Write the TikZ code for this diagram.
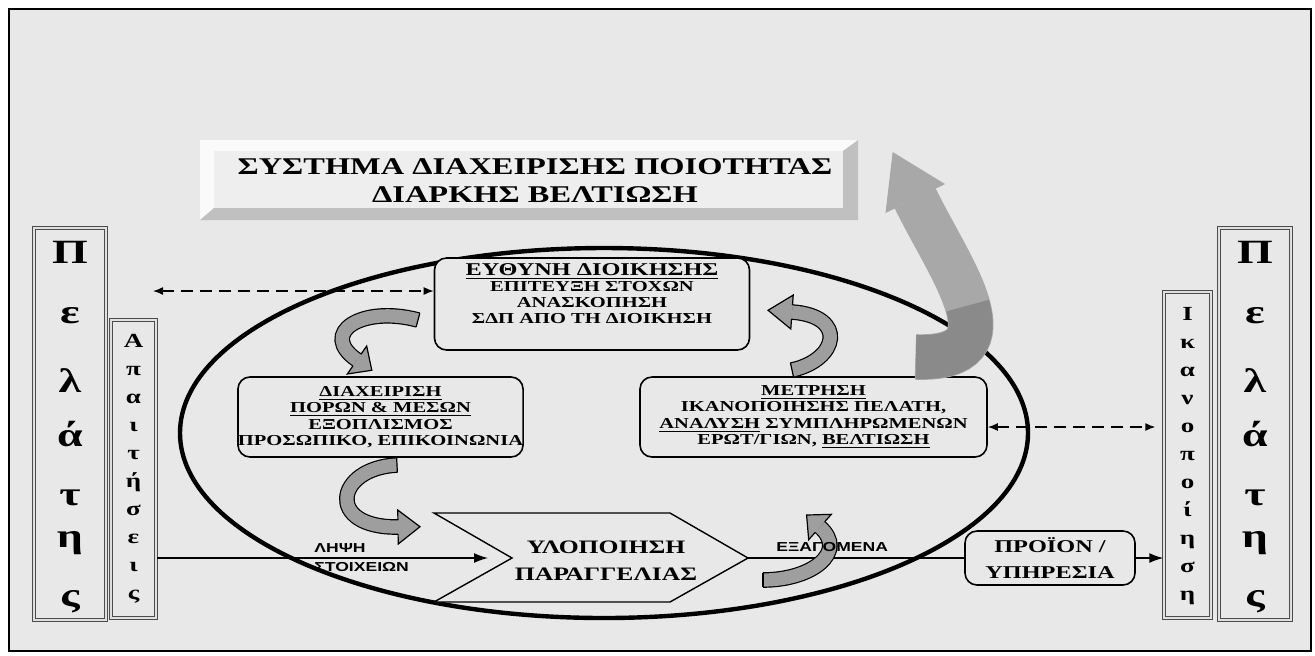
\documentclass[tikz,border=0pt]{standalone}
\usepackage{fontspec}
\setmainfont{Liberation Serif}[FakeStretch=1.35]
\newfontfamily\labelsans{Liberation Sans}[FakeStretch=1.35]
\usepackage{tikz}
\usetikzlibrary{arrows.meta,calc}

\definecolor{paper}{RGB}{232,232,232}
\definecolor{bandgray}{RGB}{158,158,158}
\definecolor{biggray}{RGB}{168,168,168}
\definecolor{bigdark}{RGB}{138,138,138}
\definecolor{bevellight}{RGB}{250,250,250}
\definecolor{beveldark}{RGB}{192,192,192}
\definecolor{facegray}{RGB}{238,238,238}

% bent block arrow: fill, outline, half band, half head, head length, prefix
\newcommand{\bandarrow}[6]{%
  \draw[draw=#2, line width={2*#3pt+0.8pt}] (#6S) .. controls (#6C) and (#6D) .. (#6E);
  \draw[draw=#1, line width={2*#3pt-0.4pt}] (#6S) .. controls (#6C) and (#6D) .. (#6E);
  \draw[draw=#2, line width=0.6pt] ($(#6S)!#3pt!90:(#6C)$) -- ($(#6S)!#3pt!-90:(#6C)$);
  \fill[#1] ($(#6E)!#4pt!90:(#6D)$) -- ($(#6E)!#5pt!180:(#6D)$) -- ($(#6E)!#4pt!-90:(#6D)$) -- cycle;
  \draw[draw=#2, line width=0.6pt, line join=miter] ($(#6E)!#3pt!90:(#6D)$) -- ($(#6E)!#4pt!90:(#6D)$)
    -- ($(#6E)!#5pt!180:(#6D)$) -- ($(#6E)!#4pt!-90:(#6D)$) -- ($(#6E)!#3pt!-90:(#6D)$);
}

\begin{document}
\begin{tikzpicture}[x=0.5pt, y=-0.5pt]
        \tikzset{roundbox/.style = {draw, line width=0.8pt, rounded corners=6pt, fill=paper, align=center, inner sep=0pt, font=\fontsize{7.6}{8.2}\selectfont\bfseries}}
        \tikzset{colbox/.style = {draw=black!70, line width=0.7pt, double=black!12, double distance=0.8pt, fill=paper, inner sep=0pt}}
        \tikzset{bigletter/.style = {anchor=base, inner sep=0pt, font=\fontsize{17}{17}\selectfont\bfseries}}
        \tikzset{midletter/.style = {anchor=base, inner sep=0pt, font=\fontsize{10}{10}\selectfont\bfseries}}
        \tikzset{flowlabel/.style = {anchor=base west, inner sep=0pt, font=\labelsans\fontsize{6.5}{7}\selectfont\bfseries}}
        \tikzset{mainline/.style = {line width=0.7pt}}
        \tikzset{dasharrow/.style = {{Latex[length=5pt,width=4pt]}-{Latex[length=5pt,width=4pt]}, line width=0.7pt, dash pattern=on 6pt off 3.5pt}}
        \useasboundingbox (0,0) rectangle (1315,655);
        \fill[white] (0,0) rectangle (1315,655);
        \draw[line width=1.2pt, fill=paper] (9,9) rectangle (1311,651);

        % title plate
        \fill[bevellight] (200,140) rectangle (858,220);
        \fill[beveldark] (858,140) -- (858,220) -- (200,220) -- (214,208) -- (843,208) -- (843,151) -- cycle;
        \fill[facegray] (214,151) rectangle (843,208);
        \node[align=center, font=\fontsize{12}{14}\selectfont\bfseries] (qms) at (535,181)
            {ΣΥΣΤΗΜΑ ΔΙΑΧΕΙΡΙΣΗΣ ΠΟΙΟΤΗΤΑΣ\\ΔΙΑΡΚΗΣ ΒΕΛΤΙΩΣΗ};

        % loop
        \draw[line width=2.2pt] (604,433) ellipse [x radius=212pt, y radius=92.5pt];

        % boxes
        \node[roundbox, minimum width=157.5pt, minimum height=46pt] (mgmt) at (592,304) {};
        \node[align=center, inner sep=0pt, font=\fontsize{7.6}{8}\selectfont\bfseries] (mgmttxt) at (592,294)
            {{\fontsize{9}{9}\selectfont\underline{ΕΥΘΥΝΗ ΔΙΟΙΚΗΣΗΣ}}\\ΕΠΙΤΕΥΞΗ ΣΤΟΧΩΝ\\ΑΝΑΣΚΟΠΗΣΗ\\ΣΔΠ ΑΠΟ ΤΗ ΔΙΟΙΚΗΣΗ};
        \node[roundbox, minimum width=142.5pt, minimum height=40pt] (resources) at (380.5,417)
            {\underline{ΔΙΑΧΕΙΡΙΣΗ}\\\underline{ΠΟΡΩΝ \& ΜΕΣΩΝ}\\ΕΞΟΠΛΙΣΜΟΣ\\ΠΡΟΣΩΠΙΚΟ, ΕΠΙΚΟΙΝΩΝΙΑ};
        \node[roundbox, minimum width=173.5pt, minimum height=40pt] (measure) at (813.5,417)
            {\underline{ΜΕΤΡΗΣΗ}\\ΙΚΑΝΟΠΟΙΗΣΗΣ ΠΕΛΑΤΗ,\\\underline{ΑΝΑΛΥΣΗ} ΣΥΜΠΛΗΡΩΜΕΝΩΝ\\ΕΡΩΤ/ΓΙΩΝ, \underline{ΒΕΛΤΙΩΣΗ}};
        \node[roundbox, minimum width=85pt, minimum height=27pt, font=\fontsize{9}{13}\selectfont\bfseries] (product) at (1050,558)
            {ΠΡΟΪΟΝ /\\ΥΠΗΡΕΣΙΑ};

        % order chevron
        \coordinate (notch) at (512,558);
        \coordinate (tip) at (748,558);
        \draw[line width=0.7pt, fill=paper] (434,513) -- (670,513) -- (tip) -- (670,602) -- (434,602) -- (notch) -- cycle;
        \node[align=center, font=\fontsize{9.5}{13.5}\selectfont\bfseries] (order) at (606,561) {ΥΛΟΠΟΙΗΣΗ\\ΠΑΡΑΓΓΕΛΙΑΣ};

        % columns
        \node[colbox, minimum width=36pt, minimum height=196pt] (custL) at (70,424) {};
        \node[colbox, minimum width=22.5pt, minimum height=149pt] (reqs) at (133.5,469) {};
        \node[colbox, minimum width=23.5pt, minimum height=163pt] (satis) at (1187.5,455) {};
        \node[colbox, minimum width=36pt, minimum height=196pt] (custR) at (1255,424) {};
        \foreach \ch/\yy in {Π/263,ε/323,λ/392,ά/446,τ/505,η/547,ς/606}
        {
            \node[bigletter] (cl\yy) at (70,\yy) {\ch};
            \node[bigletter] (cr\yy) at (1255,\yy) {\ch};
        }
        \foreach \ch [count=\i from 0] in {Α,π,α,ι,τ,ή,σ,ε,ι,ς}
            \node[midletter] (rq\i) at (133.5,{347+28*\i}) {\ch};
        \foreach \ch [count=\i from 0] in {Ι,κ,α,ν,ο,π,ο,ί,η,σ,η}
            \node[midletter] (st\i) at (1187.5,{320+28*\i}) {\ch};

        % flow
        \draw[mainline, -{Latex[length=7pt,width=5pt]}, shorten >=12pt] (reqs.east |- notch) -- (notch);
        \draw[mainline] (tip) -- (product.west);
        \draw[mainline, -{Latex[length=7pt,width=5pt]}] (product.east) -- (satis.west |- product.east);
        \coordinate (dashL) at (153,291);
        \coordinate (dashy) at (1000,427);
        \draw[dasharrow] (dashL) -- (dashL -| mgmt.west);
        \draw[dasharrow, shorten >=4pt] (measure.east |- dashy) -- (satis.west |- dashy);

        % bent arrows
        \coordinate (toResS) at (418,320); \coordinate (toResC) at (362,305);
        \coordinate (toResD) at (318,333); \coordinate (toResE) at (357,360);
        \bandarrow{bandgray}{black}{3.5}{8.5}{9}{toRes}
        \coordinate (toOrdS) at (397,465); \coordinate (toOrdC) at (335,468);
        \coordinate (toOrdD) at (325,528); \coordinate (toOrdE) at (398,527);
        \bandarrow{bandgray}{black}{3.5}{8.5}{11}{toOrd}
        \coordinate (backS) at (763,580); \coordinate (backC) at (812,580);
        \coordinate (backD) at (848,552); \coordinate (backE) at (820,527);
        \bandarrow{bandgray}{black}{3.5}{8.5}{9}{back}
        \coordinate (toMgmtS) at (792,370); \coordinate (toMgmtC) at (838,360);
        \coordinate (toMgmtD) at (848,316); \coordinate (toMgmtE) at (792,312);
        \bandarrow{bandgray}{black}{3.5}{8.5}{12}{toMgmt}
        \coordinate (toQmsS) at (916,357); \coordinate (toQmsC) at (1020,360);
        \coordinate (toQmsD) at (950,270); \coordinate (toQmsE) at (915,198);
        \bandarrow{biggray}{biggray}{11}{16}{25}{toQms}
        % darker front half of the big arrow
        \draw[bigdark, line width=22pt] (toQmsS) .. controls (968,358.5) and (976.5,336.75) .. (967.6,305.6);

        % labels
        \node[flowlabel] (takein) at (314,552) {ΛΗΨΗ};
        \node[flowlabel] (takein2) at (314,571) {ΣΤΟΙΧΕΙΩΝ};
        \node[flowlabel] (outputs) at (776,551) {ΕΞΑΓΟΜΕΝΑ};
\end{tikzpicture}
\end{document}
